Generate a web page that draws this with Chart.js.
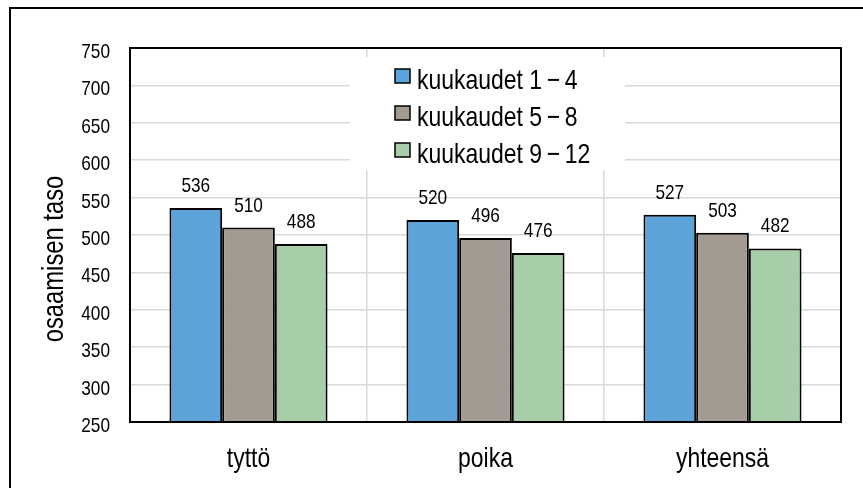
<!DOCTYPE html>
<html>
<head>
<meta charset="utf-8">
<script src="https://cdn.jsdelivr.net/npm/chart.js@4"></script>
<style>
  html, body { margin: 0; padding: 0; background: #fff; }
  #wrap { width: 863px; height: 488px; }
</style>
</head>
<body>
<div id="wrap"><canvas id="myChart" width="863" height="488"></canvas></div>
<script>
// data
var categories = ['tyttö', 'poika', 'yhteensä'];
var seriesNames = ['kuukaudet 1\u2009\u2212\u20094', 'kuukaudet 5\u2009\u2212\u20098', 'kuukaudet 9\u2009\u2212\u200912'];
var months1to4 = [536, 520, 527];
var months5to8 = [510, 496, 503];
var months9to12 = [488, 476, 482];
var yTicks = [250, 300, 350, 400, 450, 500, 550, 600, 650, 700, 750];
var yTitle = 'osaamisen taso';

var FONT = '"Liberation Sans", Arial, sans-serif';
var NARROW = 0.82; // no Arial Narrow here, so squeeze Liberation Sans

// draws text squeezed horizontally (rotation optional)
function narrowText(ctx, text, x, y, size, align, rot) {
    ctx.save();
    ctx.translate(x, y);
    if (rot) ctx.rotate(rot);
    ctx.scale(NARROW, 1);
    ctx.font = size + 'px ' + FONT;
    ctx.fillStyle = '#000';
    ctx.textAlign = align;
    ctx.textBaseline = 'alphabetic';
    ctx.fillText(text, 0, 0);
    ctx.restore();
}

// axis texts drawn by hand so they can be narrow
var axisText = {
    id: 'axisText',
    afterDraw: function (chart) {
        var ctx = chart.ctx;
        var a = chart.chartArea;
        var xs = chart.scales.x, ys = chart.scales.y;
        ys.ticks.forEach(function (t) {
            narrowText(ctx, String(t.value), a.left - 20, ys.getPixelForValue(t.value) + 10, 21, 'right');
        });
        xs.ticks.forEach(function (t, i) {
            narrowText(ctx, chart.data.labels[i], xs.getPixelForTick(i), a.bottom + 45, 28, 'center');
        });
        narrowText(ctx, yTitle, 63, a.top + 211, 29, 'center', -Math.PI / 2);
    }
};

// value labels above each bar
var valueLabels = {
    id: 'valueLabels',
    afterDatasetsDraw: function (chart) {
        chart.data.datasets.forEach(function (ds, i) {
            chart.getDatasetMeta(i).data.forEach(function (bar, j) {
                narrowText(chart.ctx, String(ds.data[j]), bar.x, bar.y - 16, 21, 'center');
            });
        });
    }
};

// legend inside the plot, white box over the grid
var innerLegend = {
    id: 'innerLegend',
    beforeDatasetsDraw: function (chart) {
        var ctx = chart.ctx;
        var a = chart.chartArea;
        ctx.save();
        ctx.fillStyle = '#fff';
        ctx.fillRect(a.left + 220, a.top + 9, 275, 113);
        chart.data.datasets.forEach(function (ds, i) {
            var cy = a.top + 28 + i * 37;
            ctx.fillStyle = ds.backgroundColor;
            ctx.fillRect(a.left + 265, cy - 7, 15, 14);
            ctx.lineWidth = 1.5;
            ctx.strokeStyle = '#000';
            ctx.strokeRect(a.left + 265, cy - 7, 15, 14);
            narrowText(ctx, ds.label, a.left + 287, a.top + 41 + i * 37, 28, 'left');
        });
        ctx.restore();
    }
};

// plot border and outer frame
var frames = {
    id: 'frames',
    afterDraw: function (chart) {
        var ctx = chart.ctx;
        var a = chart.chartArea;
        ctx.save();
        ctx.strokeStyle = '#000';
        ctx.lineWidth = 2;
        ctx.strokeRect(a.left, a.top, a.right - a.left, a.bottom - a.top);
        ctx.beginPath();
        ctx.moveTo(10, 488);
        ctx.lineTo(10, 8);
        ctx.lineTo(863, 8);
        ctx.stroke();
        ctx.restore();
    }
};

var ctx = document.getElementById('myChart').getContext('2d');
var myChart = new Chart(ctx, {
    type: 'bar',
    data: {
        labels: categories,
        datasets: [{
            label: seriesNames[0],
            data: months1to4,
            backgroundColor: '#5ba3d9',
            borderColor: '#000',
            borderWidth: 2
        }, {
            label: seriesNames[1],
            data: months5to8,
            backgroundColor: '#a39a91',
            borderColor: '#000',
            borderWidth: 2
        }, {
            label: seriesNames[2],
            data: months9to12,
            backgroundColor: '#a8cea9',
            borderColor: '#000',
            borderWidth: 2
        }]
    },
    options: {
        responsive: false,
        animation: false,
        devicePixelRatio: 1,
        layout: { padding: { top: 48, right: 22, left: 0, bottom: 0 } },
        datasets: { bar: { barPercentage: 1, categoryPercentage: 0.667 } },
        plugins: {
            legend: { display: false },
            tooltip: { enabled: false }
        },
        scales: {
            x: {
                afterFit: function (s) { s.height = 66; },
                grid: { color: '#d9d9d9', lineWidth: 1.5, drawTicks: false, offset: true },
                border: { display: false },
                ticks: { display: false }
            },
            y: {
                min: yTicks[0],
                max: yTicks[yTicks.length - 1],
                afterFit: function (s) { s.width = 130; },
                afterBuildTicks: function (s) { s.ticks = yTicks.map(function (v) { return { value: v }; }); },
                grid: { color: '#d9d9d9', lineWidth: 1.5, drawTicks: false },
                border: { display: false },
                ticks: { display: false }
            }
        }
    },
    plugins: [innerLegend, valueLabels, axisText, frames]
});
</script>
</body>
</html>
